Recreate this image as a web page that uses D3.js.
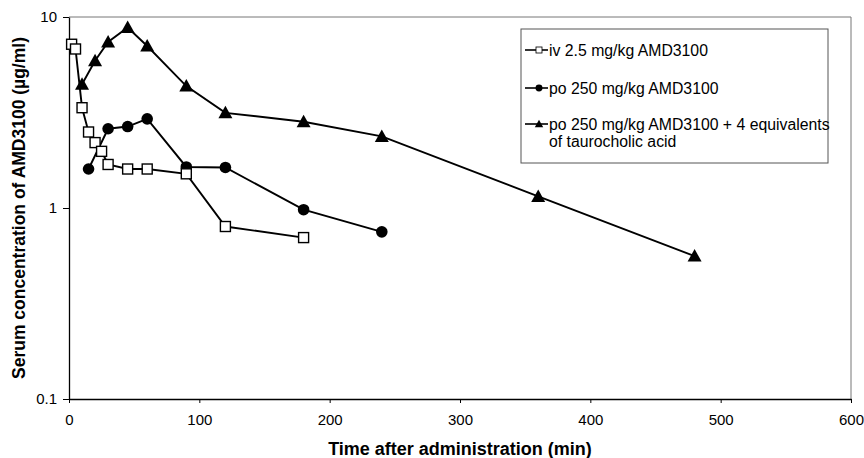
<!DOCTYPE html>
<html>
<head>
<meta charset="utf-8">
<script src="https://cdn.jsdelivr.net/npm/d3@7"></script>
<style>
  body { margin: 0; background: #fff; }
  svg { display: block; font-family: "Liberation Sans", Arial, sans-serif; }
</style>
</head>
<body>
<svg id="chart" width="864" height="458"></svg>
<script>
// time points (min) and serum concentrations (ug/ml) per series
const ivTime = [2, 5, 10, 15, 20, 25, 30, 45, 60, 90, 120, 180];
const ivConc = [7.2, 6.8, 3.35, 2.5, 2.2, 1.98, 1.69, 1.6, 1.6, 1.51, 0.8, 0.7];

const poTime = [15, 30, 45, 60, 90, 120, 180, 240];
const poConc = [1.6, 2.6, 2.67, 2.93, 1.64, 1.63, 0.98, 0.75];

const tcTime = [10, 20, 30, 45, 60, 90, 120, 180, 240, 360, 480];
const tcConc = [4.45, 5.9, 7.4, 8.8, 7.05, 4.35, 3.15, 2.83, 2.37, 1.15, 0.56];

const xTicks = [0, 100, 200, 300, 400, 500, 600];
const yTicks = [0.1, 1, 10];

const legendLabels = [
  ["iv 2.5 mg/kg AMD3100"],
  ["po 250 mg/kg AMD3100"],
  ["po 250 mg/kg AMD3100 + 4 equivalents", "of taurocholic acid"]
];

const svg = d3.select("#chart");
const margin = { top: 17, right: 13, bottom: 59, left: 69 };
const width = +svg.attr("width") - margin.left - margin.right;
const height = +svg.attr("height") - margin.top - margin.bottom;

const g = svg.append("g")
  .attr("transform", "translate(" + margin.left + "," + margin.top + ")");

const x = d3.scaleLinear().domain([0, 600]).range([0, width]);
const y = d3.scaleLog().domain([0.1, 10]).range([height, 0]);

// plot area frame (top / right, light gray)
g.append("path")
  .attr("d", "M0,0H" + width + "V" + height)
  .attr("fill", "none")
  .attr("stroke", "#777")
  .attr("stroke-width", 1);

// axes
const xAxis = g.append("g")
  .attr("transform", "translate(0," + height + ")")
  .call(d3.axisBottom(x).tickValues(xTicks).tickSize(4).tickSizeOuter(0).tickFormat(d3.format("d")));
xAxis.select(".domain").attr("stroke", "#000").attr("stroke-width", 1.3);
xAxis.selectAll("text").attr("font-size", "15px").attr("dy", "1.25em").attr("fill", "#000");

const yAxis = g.append("g")
  .call(d3.axisLeft(y).tickValues(yTicks).tickSize(6).tickSizeOuter(0).tickFormat(d => d));
yAxis.select(".domain").attr("stroke", "#000").attr("stroke-width", 1.3);
yAxis.selectAll("text").attr("font-size", "15px").attr("dx", "-3").attr("fill", "#000");

// axis titles
svg.append("text")
  .attr("x", margin.left + width / 2)
  .attr("y", 455)
  .attr("text-anchor", "middle")
  .attr("font-size", "18px")
  .attr("font-weight", "bold")
  .text("Time after administration (min)");

svg.append("text")
  .attr("transform", "translate(25," + (margin.top + height / 2) + ") rotate(-90)")
  .attr("text-anchor", "middle")
  .attr("font-size", "17.5px")
  .attr("font-weight", "bold")
  .text("Serum concentration of AMD3100 (\u00b5g/ml)");

const line = d3.line().x(d => x(d[0])).y(d => y(d[1]));

const ivData = d3.zip(ivTime, ivConc);
const poData = d3.zip(poTime, poConc);
const tcData = d3.zip(tcTime, tcConc);

function drawMarker(sel, type) {
  if (type === "square") {
    sel.append("rect")
      .attr("x", -5).attr("y", -5).attr("width", 10).attr("height", 10)
      .attr("fill", "#fff").attr("stroke", "#000").attr("stroke-width", 1.4);
  } else if (type === "circle") {
    sel.append("circle").attr("r", 5.8).attr("fill", "#000");
  } else {
    sel.append("path").attr("d", "M0,-7L7,5.5L-7,5.5Z").attr("fill", "#000");
  }
}

[[tcData, "triangle"], [poData, "circle"], [ivData, "square"]].forEach(([data, type]) => {
  g.append("path")
    .attr("d", line(data))
    .attr("fill", "none")
    .attr("stroke", "#000")
    .attr("stroke-width", 1.9);
  g.selectAll(null)
    .data(data)
    .enter()
    .append("g")
    .attr("transform", d => "translate(" + x(d[0]) + "," + y(d[1]) + ")")
    .each(function () { drawMarker(d3.select(this), type); });
});

// legend
const legend = svg.append("g").attr("transform", "translate(521,29)");
legend.append("rect")
  .attr("width", 307).attr("height", 134)
  .attr("fill", "#fff").attr("stroke", "#555").attr("stroke-width", 1);

const legendTypes = ["square", "circle", "triangle"];
const legendY = [21, 59, 95];
legendLabels.forEach((lines, i) => {
  const row = legend.append("g").attr("transform", "translate(0," + legendY[i] + ")");
  row.append("line").attr("x1", 4).attr("x2", 27).attr("stroke", "#000").attr("stroke-width", 1.6);
  const m = row.append("g").attr("transform", "translate(18,0) scale(0.6)");
  drawMarker(m, legendTypes[i]);
  lines.forEach((t, j) => {
    row.append("text")
      .attr("x", 28)
      .attr("y", j * 17)
      .attr("dy", "0.35em")
      .attr("font-size", "15.8px")
      .text(t);
  });
});
</script>
</body>
</html>
